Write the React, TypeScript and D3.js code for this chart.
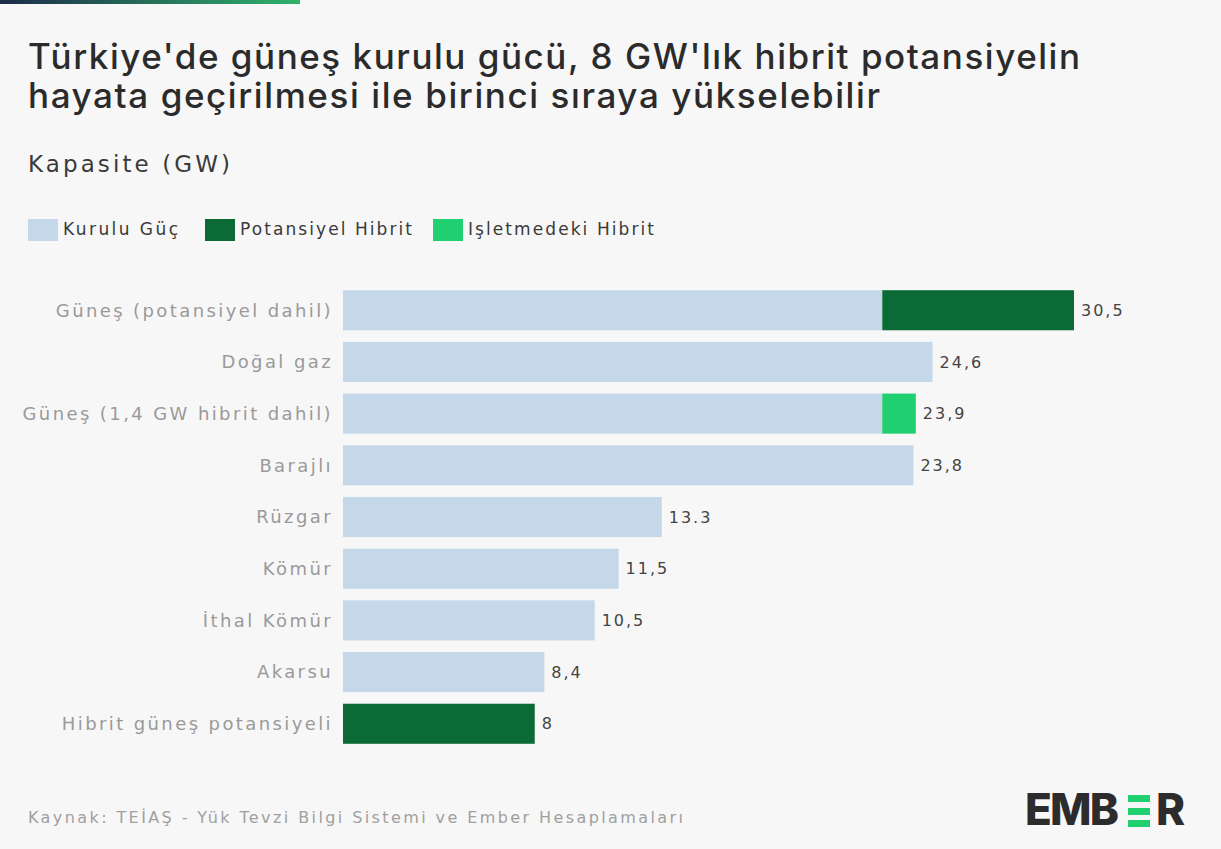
import React from "react";
import * as d3 from "d3";

const categories = [
  "Güneş (potansiyel dahil)",
  "Doğal gaz",
  "Güneş (1,4 GW hibrit dahil)",
  "Barajlı",
  "Rüzgar",
  "Kömür",
  "İthal Kömür",
  "Akarsu",
  "Hibrit güneş potansiyeli",
];
const installed = [22.5, 24.6, 22.5, 23.8, 13.3, 11.5, 10.5, 8.4, 0];
const potentialHybrid = [8, 0, 0, 0, 0, 0, 0, 0, 8];
const operatingHybrid = [0, 0, 1.4, 0, 0, 0, 0, 0, 0];
const valueLabels = ["30,5", "24,6", "23,9", "23,8", "13.3", "11,5", "10,5", "8,4", "8"];
const seriesNames = ["Kurulu Güç", "Potansiyel Hibrit", "Işletmedeki Hibrit"];
const seriesColors = ["#c4d8ea", "#0b6a36", "#1fcf70"];

const W = 1221;
const H = 849;
const FONT = "Inter, 'Noto Sans', sans-serif";
const WIDE = "'DejaVu Sans', Inter, sans-serif";

export default function App() {
  const x = d3.scaleLinear().domain([0, 30.5]).range([343, 1074]);
  const y = d3
    .scaleBand<string>()
    .domain(categories)
    .range([284, 750])
    .paddingInner(0.225)
    .paddingOuter(0.12);

  const rows = categories.map((c, i) => {
    const segs = [
      { v: installed[i], color: seriesColors[0] },
      { v: operatingHybrid[i], color: seriesColors[2] },
      { v: potentialHybrid[i], color: seriesColors[1] },
    ];
    let acc = 0;
    const rects = segs
      .filter((s) => s.v > 0)
      .map((s) => {
        const r = { x0: acc, x1: acc + s.v, color: s.color };
        acc += s.v;
        return r;
      });
    return { c, rects, total: acc, label: valueLabels[i] };
  });

  const legendX = [28, 205, 433];
  const legendW = [115, 172, 186];

  return (
    <svg
      width={W}
      height={H}
      style={{ position: "absolute", left: 0, top: 0, display: "block" }}
      fontFamily={FONT}
    >
      <defs>
        <linearGradient id="topbar" x1="0" x2="1" y1="0" y2="0">
          <stop offset="0%" stopColor="#1d2b4a" />
          <stop offset="100%" stopColor="#2fb36a" />
        </linearGradient>
      </defs>
      <rect x={0} y={0} width={W} height={H} fill="#f7f7f7" />
      <rect x={0} y={0} width={300} height={4} fill="url(#topbar)" />

      <text x={28} y={69} fontSize={35} fontWeight={500} fill="#2b2b2b" textLength={1052} lengthAdjust="spacing">
        Türkiye'de güneş kurulu gücü, 8 GW'lık hibrit potansiyelin
      </text>
      <text x={28} y={108} fontSize={35} fontWeight={500} fill="#2b2b2b" textLength={852} lengthAdjust="spacing">
        hayata geçirilmesi ile birinci sıraya yükselebilir
      </text>
      <text x={28} y={172} fontSize={23} fill="#3a3a3a" fontFamily={WIDE} textLength={202} lengthAdjust="spacing">
        Kapasite (GW)
      </text>

      {seriesNames.map((n, i) => (
        <g key={n}>
          <rect x={legendX[i]} y={219} width={30} height={22} fill={seriesColors[i]} />
          <text
            x={legendX[i] + 35}
            y={235}
            fontSize={17}
            fill="#3a3a3a"
            fontFamily={WIDE}
            textLength={legendW[i]}
            lengthAdjust="spacing"
          >
            {n}
          </text>
        </g>
      ))}

      {rows.map((r) => (
        <g key={r.c}>
          <text
            x={333}
            y={(y(r.c) as number) + y.bandwidth() / 2}
            dy="0.35em"
            textAnchor="end"
            fontSize={18}
            fontFamily={WIDE}
            letterSpacing={2.4}
            fill="#9a9a9a"
          >
            {r.c}
          </text>
          {r.rects.map((s, j) => (
            <rect
              key={j}
              x={x(s.x0)}
              y={y(r.c)}
              width={x(s.x1) - x(s.x0)}
              height={y.bandwidth()}
              fill={s.color}
            />
          ))}
          <text
            x={x(r.total) + 7}
            y={(y(r.c) as number) + y.bandwidth() / 2}
            dy="0.35em"
            fontSize={16}
            fontFamily={WIDE}
            fill="#444"
            letterSpacing={2}
          >
            {r.label}
          </text>
        </g>
      ))}

      <text x={28} y={823} fontSize={16} fill="#a0a0a0" fontFamily={WIDE} textLength={655} lengthAdjust="spacing">
        Kaynak: TEİAŞ - Yük Tevzi Bilgi Sistemi ve Ember Hesaplamaları
      </text>

      <g>
        <text x={1025} y={825} fontSize={44} fontWeight={800} fill="#2c2c2c" textLength={94} lengthAdjust="spacing">
          EMB
        </text>
        <rect x={1128} y={795} width={22} height={7} fill="#1fcf70" />
        <rect x={1128} y={808} width={22} height={7} fill="#1fcf70" />
        <rect x={1128} y={820} width={22} height={7} fill="#1fcf70" />
        <text x={1156} y={825} fontSize={44} fontWeight={800} fill="#2c2c2c">
          R
        </text>
      </g>
    </svg>
  );
}
